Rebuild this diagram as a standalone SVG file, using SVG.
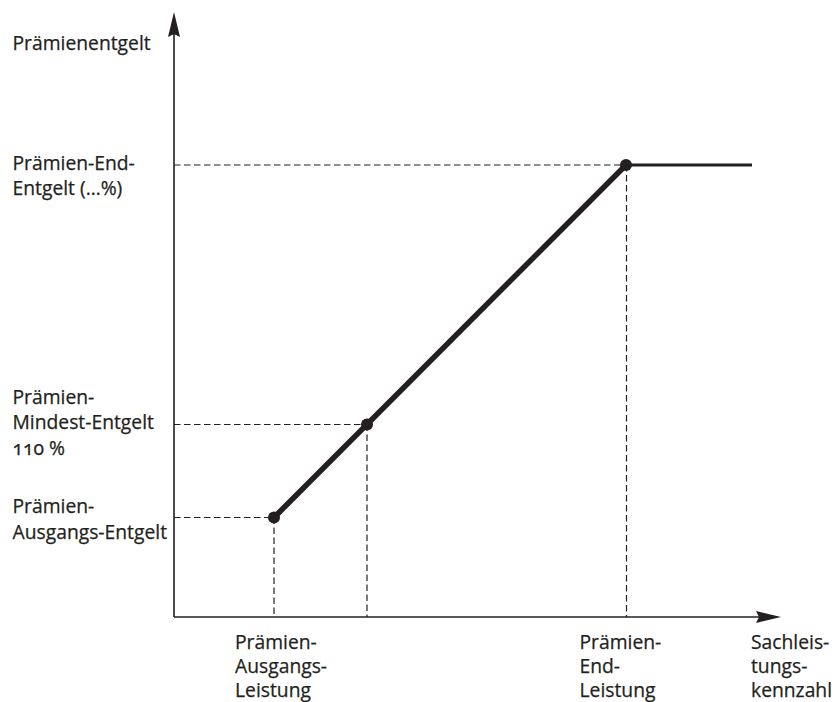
<svg xmlns="http://www.w3.org/2000/svg" width="835" height="702" viewBox="0 0 835 702">
<style>
.t{font-family:"Open Sans","Noto Sans","Liberation Sans",sans-serif;font-size:19.3px;fill:#231f20;stroke:#231f20;stroke-width:0.25}
.ax{stroke:#231f20;stroke-width:1.6;fill:none}
.d{stroke:#231f20;stroke-width:1.2;stroke-dasharray:6.5 3.5;fill:none}
.pt{fill:#231f20}
</style>
<rect width="835" height="702" fill="#fff"/>
<g id="connectors">
<line class="d" x1="174" y1="165" x2="626" y2="165"/>
<line class="d" x1="174" y1="424.5" x2="367" y2="424.5"/>
<line class="d" x1="174" y1="517.5" x2="274" y2="517.5"/>
<line class="d" x1="274" y1="517.5" x2="274" y2="617"/>
<line class="d" x1="367" y1="424.5" x2="367" y2="617"/>
<line class="d" x1="626.5" y1="165" x2="626.5" y2="617"/>
<line x1="274" y1="517.5" x2="626" y2="165" stroke="#231f20" stroke-width="5.5"/>
<line x1="626" y1="165" x2="752" y2="165" stroke="#231f20" stroke-width="3"/>
</g>
<g id="y-axis">
<line class="ax" x1="174" y1="617" x2="174" y2="30"/>
<path class="pt" d="M174,12 L180,37 L174,34 L168,37 Z"/>
</g>
<g id="x-axis">
<line class="ax" x1="174" y1="617" x2="762" y2="617"/>
<path class="pt" d="M781,617 L756,623 L759,617 L756,611 Z"/>
</g>
<g id="point-end"><circle class="pt" cx="626" cy="165" r="6"/></g>
<g id="point-min"><circle class="pt" cx="367" cy="424.5" r="6"/></g>
<g id="point-start"><circle class="pt" cx="274" cy="517.5" r="6"/></g>
<g id="label-y">
<text class="t" x="12.5" y="50">Prämienentgelt</text>
</g>
<g id="label-end-entgelt">
<text class="t" x="12.5" y="169.5">Prämien-End-</text>
<text class="t" x="12.5" y="195">Entgelt (…%)</text>
</g>
<g id="label-mindest">
<text class="t" x="12.5" y="403.5">Prämien-</text>
<text class="t" x="12.5" y="429">Mindest-Entgelt</text>
<text class="t" x="12.5" y="454.5" style="font-variant-numeric:oldstyle-nums">110 %</text>
</g>
<g id="label-ausgangs-entgelt">
<text class="t" x="12.5" y="513">Prämien-</text>
<text class="t" x="12.5" y="538.5">Ausgangs-Entgelt</text>
</g>
<g id="label-ausgangs-leistung">
<text class="t" x="235" y="648.5">Prämien-</text>
<text class="t" x="235" y="672.5">Ausgangs-</text>
<text class="t" x="235" y="696.5">Leistung</text>
</g>
<g id="label-end-leistung">
<text class="t" x="579.5" y="648.5">Prämien-</text>
<text class="t" x="579.5" y="672.5">End-</text>
<text class="t" x="579.5" y="696.5">Leistung</text>
</g>
<g id="label-x">
<text class="t" x="751" y="648.5">Sachleis-</text>
<text class="t" x="751" y="672.5">tungs-</text>
<text class="t" x="751" y="696.5">kennzahl</text>
</g>
</svg>
